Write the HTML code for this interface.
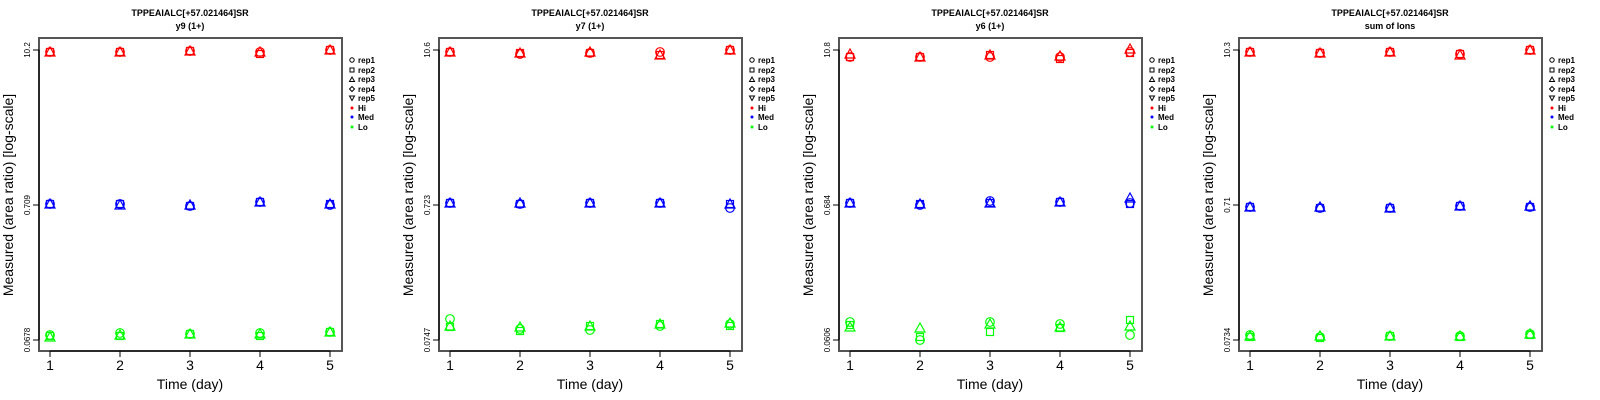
<!DOCTYPE html>
<html><head><meta charset="utf-8"><style>
body{margin:0;background:#fff;}
svg{display:block;font-family:"Liberation Sans",sans-serif;}
</style></head><body>
<svg id="s" width="1600" height="400" xmlns="http://www.w3.org/2000/svg">
<defs>
<g id="panel">
<rect x="39" y="38" width="303" height="313" fill="none" stroke="#555" stroke-width="2"/>
<g stroke="#000" stroke-width="1">
<line x1="50" y1="351" x2="330" y2="351"/>
<line x1="50" y1="351" x2="50" y2="357"/><line x1="120" y1="351" x2="120" y2="357"/><line x1="190" y1="351" x2="190" y2="357"/><line x1="260" y1="351" x2="260" y2="357"/><line x1="330" y1="351" x2="330" y2="357"/>
<line x1="39" y1="50" x2="39" y2="340"/>
<line x1="33" y1="50" x2="39" y2="50"/><line x1="33" y1="205" x2="39" y2="205"/><line x1="33" y1="340" x2="39" y2="340"/>
</g>
<g font-size="14" text-anchor="middle">
<text x="50" y="370">1</text><text x="120" y="370">2</text><text x="190" y="370">3</text><text x="260" y="370">4</text><text x="330" y="370">5</text>
<text x="190" y="389">Time (day)</text>
<text transform="translate(13,195) rotate(-90)">Measured (area ratio) [log-scale]</text>
</g>
<g font-size="8" font-weight="bold">
<text x="358" y="63">rep1</text><text x="358" y="73">rep2</text><text x="358" y="82">rep3</text><text x="358" y="92">rep4</text><text x="358" y="101">rep5</text><text x="358" y="111">Hi</text><text x="358" y="120">Med</text><text x="358" y="130">Lo</text>
</g>
<g fill="none" stroke="#000" stroke-width="1">
<circle cx="352" cy="60" r="2.2"/><rect x="350" y="68" width="4" height="4"/><path d="M349.5 81.5 L352 77 L354.5 81.5Z"/><path d="M352 86.5 L354.5 89 L352 91.5 L349.5 89Z"/><path d="M349.5 96 L352 100.5 L354.5 96Z"/>
</g>
<circle cx="352" cy="108" r="1.5" fill="#f00"/><circle cx="352" cy="117" r="1.5" fill="#00f"/><circle cx="352" cy="127" r="1.5" fill="#0f0"/>
</g>
</defs>
<use href="#panel" x="0"/><use href="#panel" x="400"/><use href="#panel" x="800"/><use href="#panel" x="1200"/>
<g font-size="9" font-weight="bold" text-anchor="middle">
<text x="190" y="16">TPPEAIALC[+57.021464]SR</text><text x="190" y="29">y9 (1+)</text>
<text x="590" y="16">TPPEAIALC[+57.021464]SR</text><text x="590" y="29">y7 (1+)</text>
<text x="990" y="16">TPPEAIALC[+57.021464]SR</text><text x="990" y="29">y6 (1+)</text>
<text x="1390" y="16">TPPEAIALC[+57.021464]SR</text><text x="1390" y="29">sum of Ions</text>
</g>
<g font-size="8" text-anchor="middle">
<text transform="translate(30,50) rotate(-90)">10.2</text><text transform="translate(30,205) rotate(-90)">0.709</text><text transform="translate(30,340) rotate(-90)">0.0678</text>
<text transform="translate(430,50) rotate(-90)">10.6</text><text transform="translate(430,205) rotate(-90)">0.723</text><text transform="translate(430,340) rotate(-90)">0.0747</text>
<text transform="translate(830,50) rotate(-90)">10.8</text><text transform="translate(830,205) rotate(-90)">0.684</text><text transform="translate(830,340) rotate(-90)">0.0606</text>
<text transform="translate(1230,50) rotate(-90)">10.3</text><text transform="translate(1230,205) rotate(-90)">0.71</text><text transform="translate(1230,340) rotate(-90)">0.0734</text>
</g>
<g id="pts" fill="none" stroke-width="1.2"></g>
</svg>
<script>
/* per panel: level -> per day [circle, square, triangle] y */
var P=[
 {Hi:[[52,52,52],[52,52,52],[51,51,51],[52,54,52],[50,50,50]],Med:[[204,204,204],[204,204,205],[206,206,205],[202,202,202],[205,204,204]],Lo:[[335,336,337],[333,336,335],[334,334,334],[333,336,334],[332,332,332]]},
 {Hi:[[52,52,52],[54,53,53],[53,53,52],[52,55,55],[50,50,50]],Med:[[203,203,203],[204,204,203],[203,203,203],[203,203,203],[208,204,204]],Lo:[[319,327,326],[329,331,327],[330,326,326],[326,324,324],[324,326,323]]},
 {Hi:[[57,57,54],[57,57,57],[57,55,55],[57,59,56],[52,53,49]],Med:[[203,203,203],[205,204,204],[201,203,203],[202,202,202],[203,204,198]],Lo:[[322,325,327],[340,337,328],[322,332,324],[324,328,327],[335,320,326]]},
 {Hi:[[52,52,52],[53,53,53],[52,52,52],[54,54,55],[50,50,50]],Med:[[207,207,207],[208,208,207],[208,208,208],[206,206,206],[207,207,206]],Lo:[[335,337,336],[337,338,336],[336,336,336],[336,337,336],[334,335,334]]}];
var C={Hi:"#f00",Med:"#00f",Lo:"#0f0"};
var g=document.getElementById("pts"),h="";
P.forEach(function(p,k){var ox=k*400;["Hi","Med","Lo"].forEach(function(l){
 p[l].forEach(function(ys,d){var x=ox+50+70*d,c=C[l];
  h+='<circle cx="'+x+'" cy="'+ys[0]+'" r="4.3" stroke="'+c+'"/>';
  h+='<rect x="'+(x-3.5)+'" y="'+(ys[1]-3.5)+'" width="7" height="7" stroke="'+c+'"/>';
  var y=ys[2];
  h+='<path d="M'+(x-5)+' '+(y+4)+' L'+x+' '+(y-5)+' L'+(x+5)+' '+(y+4)+'Z" stroke="'+c+'"/>';
 });});});
g.innerHTML=h;
</script>
</body></html>
